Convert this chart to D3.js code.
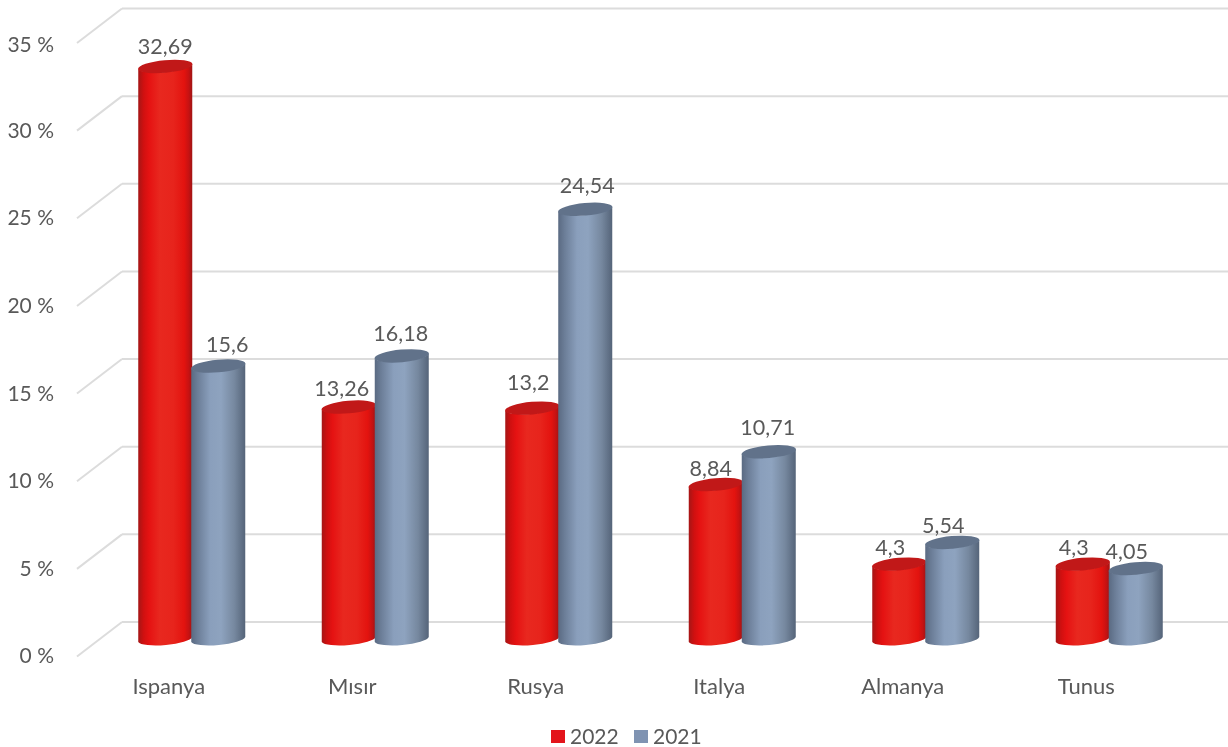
<!DOCTYPE html>
<html><head><meta charset="utf-8">
<script src="https://cdn.jsdelivr.net/npm/d3@7/dist/d3.min.js"></script>
<style>html,body{margin:0;padding:0;background:#fff}svg{display:block;filter:blur(0.45px)}text{font-family:Lato,"Open Sans",sans-serif;fill:#595959}</style>
</head><body><svg id="c" width="1228" height="747"></svg>
<script>
const categories = ["Ispanya","Mısır","Rusya","Italya","Almanya","Tunus"];
const series2022 = [32.69,13.26,13.2,8.84,4.3,4.3];
const series2021 = [15.6,16.18,24.54,10.71,5.54,4.05];
const labels2022 = ["32,69","13,26","13,2","8,84","4,3","4,3"];
const labels2021 = ["15,6","16,18","24,54","10,71","5,54","4,05"];
const yTicks = [0,5,10,15,20,25,30,35];
const seriesNames = ["2022","2021"];

const svg = d3.select("#c");
const W=1228;
const x = d3.scaleBand().domain(categories).range([76.5,1177.5]).paddingInner(0).paddingOuter(0);
const barW = 54, gap = 53;
const yBar = d3.scaleLinear().domain([0,35]).range([639.5,26]);
const yFront = d3.scaleLinear().domain([0,35]).range([656.5,43]);
const yBack = d3.scaleLinear().domain([0,35]).range([622,8.5]);
const rx=27.3, ry=6.3, rot=-5.2, dyTilt=2.5;

const defs = svg.append("defs");
function grad(id,stops){const g=defs.append("linearGradient").attr("id",id);
 stops.forEach(s=>g.append("stop").attr("offset",s[0]).attr("stop-color",s[1]));}
grad("gRed",[[0,"#a51616"],[0.1,"#d01010"],[0.2,"#e51212"],[0.4,"#e8281f"],[0.65,"#e7241c"],[0.85,"#e3130f"],[0.93,"#c81212"],[1,"#a01414"]]);
grad("gBlue",[[0,"#5a6a82"],[0.12,"#6c7e98"],[0.35,"#8a9fbc"],[0.55,"#8ea3bf"],[0.8,"#76889f"],[1,"#556479"]]);

const grid = svg.append("g").attr("stroke","#dcdcdc").attr("stroke-width",2).attr("fill","none");
grid.selectAll(".b").data(yTicks).join("line").attr("x1",122).attr("x2",W)
  .attr("y1",d=>yBack(d)).attr("y2",d=>yBack(d));
grid.selectAll(".s").data(yTicks).join("line").attr("x1",77).attr("x2",122)
  .attr("y1",d=>yFront(d)).attr("y2",d=>yBack(d));

svg.append("g").selectAll("text").data(yTicks).join("text")
  .attr("x",54).attr("y",d=>yFront(d)+(d===35?9:d===0?6:7)).attr("text-anchor","end")
  .attr("font-size",21).text(d=>d+" %");

function body(x0,v){
  const x1=x0+barW, t=yBar(v), b=yBar(0);
  return `M${x0},${t+dyTilt}L${x0},${b+dyTilt}A${rx},${ry} ${rot} 0 0 ${x1},${b-dyTilt}L${x1},${t-dyTilt}A${rx},${ry} ${rot} 0 1 ${x0},${t+dyTilt}Z`;
}
function drawBar(g,x0,v,fill,top){
  g.append("path").attr("d",body(x0,v)).attr("fill",fill);
  g.append("ellipse").attr("cx",x0+barW/2).attr("cy",yBar(v)).attr("rx",rx).attr("ry",ry)
    .attr("transform",`rotate(${rot} ${x0+barW/2} ${yBar(v)})`).attr("fill",top);
}
const bars = svg.append("g");
categories.forEach((c,i)=>{
  const x0 = x(c)+ x.bandwidth()/2 - 30 ;
  drawBar(bars,x0,series2022[i],"url(#gRed)","#c11818");
  drawBar(bars,x0+gap,series2021[i],"url(#gBlue)","#61728a");
});

// manual label nudges as in the original chart
const nudge22=[[0,-12.5],[-7,-11],[-4,-18],[-5,-8.5],[-9,-9],[-9,-9]];
const nudge21=[[9,-14],[-1,-15],[2,-16],[-1,-16.5],[-9,-9.5],[-9,-9.5]];
const lab = svg.append("g").attr("text-anchor","middle").attr("font-size",21.5);
categories.forEach((c,i)=>{
  const x0 = x(c)+x.bandwidth()/2-30;
  lab.append("text").attr("x",x0+barW/2+nudge22[i][0]).attr("y",yBar(series2022[i])+nudge22[i][1]).text(labels2022[i]);
  lab.append("text").attr("x",x0+gap+barW/2+nudge21[i][0]).attr("y",yBar(series2021[i])+nudge21[i][1]).text(labels2021[i]);
});

svg.append("g").selectAll("text").data(categories).join("text")
  .attr("x",d=>x(d)+x.bandwidth()/2+0.5).attr("y",693.5).attr("text-anchor","middle")
  .attr("font-size",22).text(d=>d);

const legX=[551,634], legC=["#e3141b","#7f93b2"];
const leg=svg.append("g");
seriesNames.forEach((n,i)=>{
  leg.append("rect").attr("x",legX[i]).attr("y",730).attr("width",14).attr("height",13).attr("fill",legC[i]);
  leg.append("text").attr("x",legX[i]+19).attr("y",744).attr("font-size",21).text(n);
});
</script></body></html>
